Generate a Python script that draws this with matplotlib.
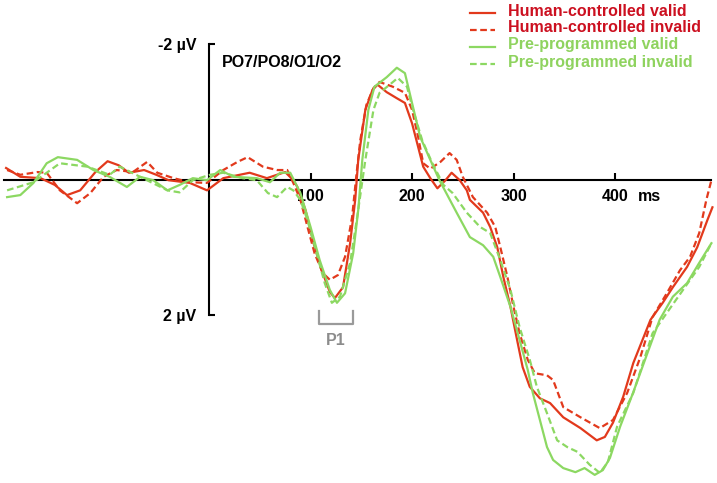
import matplotlib
matplotlib.use("Agg")
import matplotlib.pyplot as plt
from matplotlib.lines import Line2D

plt.rcParams['font.family'] = ['Liberation Sans', 'DejaVu Sans']
plt.rcParams['font.weight'] = 'bold'
plt.rcParams['font.size'] = 11.5

# ERP at PO7/PO8/O1/O2, time in ms, amplitude in uV (negative up)
hc_valid_t = [-200, -186, -166, -152, -140, -127, -112, -100, -89, -79,
              -64, -52, -40, -19, -2, 14, 40, 57, 75, 83,
              87, 95, 103, 111, 119, 124, 132, 139, 144, 147,
              154, 161, 166, 175, 185, 193, 200, 205, 211, 218,
              225, 233, 239, 247, 254, 257, 270, 277, 284, 290,
              297, 303, 309, 316, 326, 336, 349, 366, 382, 390,
              398, 408, 418, 435, 447, 457, 471, 481, 491, 496]
hc_valid_v = [-0.17, -0.04, -0.02, 0.08, 0.23, 0.16, -0.11, -0.27, -0.21, -0.10,
              -0.14, -0.07, 0.01, 0.05, 0.16, -0.02, -0.10, -0.02, -0.11, 0.01,
              0.11, 0.45, 0.94, 1.34, 1.66, 1.75, 1.59, 0.94, 0.30, -0.29,
              -1.03, -1.32, -1.40, -1.29, -1.20, -1.13, -0.83, -0.54, -0.19, -0.02,
              0.13, 0.01, -0.10, 0.01, 0.16, 0.30, 0.49, 0.70, 1.00, 1.44,
              1.88, 2.33, 2.77, 3.06, 3.23, 3.30, 3.51, 3.67, 3.85, 3.80,
              3.59, 3.21, 2.71, 2.07, 1.82, 1.59, 1.29, 1.00, 0.60, 0.41]

hc_invalid_t = [-199, -186, -169, -160, -147, -130, -117, -104, -91, -75,
                -61, -51, -35, -19, -2, 14, 28, 38, 53, 67,
                77, 83, 90, 97, 104, 112, 119, 127, 134, 141,
                145, 149, 155, 162, 168, 181, 193, 200, 206, 211,
                218, 228, 237, 244, 250, 260, 274, 282, 287, 294,
                300, 306, 314, 321, 333, 339, 349, 366, 385, 398,
                412, 425, 437, 451, 464, 474, 483, 490, 495]
hc_invalid_v = [-0.14, -0.07, -0.11, -0.10, 0.16, 0.35, 0.20, -0.04, -0.14, -0.11,
                -0.26, -0.10, -0.02, 0.04, 0.05, -0.14, -0.26, -0.33, -0.19, -0.14,
                -0.14, 0.05, 0.30, 0.70, 1.09, 1.38, 1.48, 1.41, 1.14, 0.55,
                -0.04, -0.58, -1.10, -1.35, -1.44, -1.37, -1.28, -1.03, -0.63, -0.24,
                -0.16, -0.26, -0.39, -0.29, -0.04, 0.26, 0.49, 0.70, 1.00, 1.44,
                1.88, 2.27, 2.66, 2.86, 2.89, 2.96, 3.36, 3.51, 3.67, 3.55,
                3.15, 2.62, 2.03, 1.68, 1.34, 1.14, 0.79, 0.30, 0.01]

pp_valid_t = [-199, -186, -173, -160, -149, -130, -114, -98, -81, -68,
              -55, -41, -29, -16, -2, 11, 24, 47, 60, 70,
              80, 90, 100, 109, 119, 126, 134, 142, 147, 151,
              157, 163, 175, 185, 193, 200, 208, 218, 227, 244,
              257, 270, 280, 287, 297, 306, 314, 319, 326, 333,
              339, 349, 361, 370, 380, 388, 395, 405, 418, 432,
              444, 457, 471, 483, 495]
pp_valid_v = [0.26, 0.23, 0.05, -0.24, -0.33, -0.29, -0.14, -0.04, 0.11, -0.04,
              0.01, 0.16, 0.08, -0.02, 0.01, -0.14, -0.04, -0.02, 0.04, -0.10,
              -0.10, 0.20, 0.70, 1.19, 1.63, 1.82, 1.68, 1.09, 0.45, -0.29,
              -1.03, -1.37, -1.51, -1.65, -1.57, -1.13, -0.63, -0.29, 0.01, 0.49,
              0.85, 0.97, 1.14, 1.44, 1.88, 2.37, 2.81, 3.15, 3.55, 3.95,
              4.14, 4.26, 4.32, 4.26, 4.36, 4.29, 4.11, 3.65, 3.14, 2.56,
              2.07, 1.73, 1.53, 1.23, 0.94]

pp_invalid_t = [-199, -173, -147, -120, -98, -88, -68, -41, -29, -16,
                1, 14, 33, 47, 58, 67, 77, 83, 90, 97,
                106, 114, 121, 129, 139, 146, 154, 162, 168, 178,
                186, 195, 201, 210, 220, 231, 240, 254, 267, 277,
                287, 297, 306, 316, 323, 333, 343, 353, 363, 375,
                385, 393, 402, 418, 437, 451, 467, 483, 495]
pp_invalid_v = [0.16, 0.04, -0.24, -0.19, -0.07, -0.19, -0.04, 0.16, 0.19, 0.01,
                -0.07, -0.10, -0.02, 0.01, 0.20, 0.26, 0.11, 0.16, 0.30, 0.60,
                1.09, 1.53, 1.82, 1.73, 1.23, 0.55, -0.29, -1.03, -1.28, -1.40,
                -1.50, -1.37, -1.03, -0.58, -0.24, 0.08, 0.20, 0.49, 0.70, 0.79,
                1.19, 1.63, 2.18, 2.66, 3.06, 3.45, 3.85, 3.95, 4.02, 4.21,
                4.33, 4.17, 3.65, 3.15, 2.27, 1.97, 1.63, 1.29, 0.94]

labels = ['Human-controlled valid', 'Human-controlled invalid',
          'Pre-programmed valid', 'Pre-programmed invalid']
p1_window = [108, 142]

red = '#e2391c'
red_text = '#cc1020'
green = '#8cd862'
green_text = '#8fd35f'
dash = (0, (3, 1.6))

series = [
    (hc_valid_t, hc_valid_v, red, '-', red_text),
    (hc_invalid_t, hc_invalid_v, red, dash, red_text),
    (pp_valid_t, pp_valid_v, green, '-', green_text),
    (pp_invalid_t, pp_invalid_v, green, dash, green_text),
]

W, H = 717, 483
fig = plt.figure(figsize=(W / 100, H / 100), dpi=100)
ax = fig.add_axes([0, 0, 1, 1])
ax.set_xlim(-206, 500.5)
ax.set_ylim(4.48, -2.65)

for t, v, c, ls, _ in series:
    ax.plot(t, v, color=c, lw=1.6, ls=ls, solid_joinstyle='round', zorder=3)

for side in ['top', 'right']:
    ax.spines[side].set_visible(False)
ax.spines['left'].set_position(('data', 0))
ax.spines['bottom'].set_position(('data', 0))
ax.spines['left'].set_bounds(-2, 2)
ax.spines['bottom'].set_bounds(-202, 495)
for side in ['left', 'bottom']:
    ax.spines[side].set_linewidth(1.5)

ax.set_xticks([100, 200, 300, 400])
ax.tick_params(axis='x', direction='in', length=5, width=1.5, pad=7)
ax.set_yticks([-2, 2])
ax.set_yticklabels(['-2 \u00b5V', '2 \u00b5V'])
ax.tick_params(axis='y', direction='in', length=4, width=1.5, pad=9)

ax.annotate('ms', xy=(434, 0), xytext=(0, -7), textcoords='offset points',
            ha='center', va='top')
ax.text(13, -1.73, 'PO7/PO8/O1/O2', ha='left', va='center')

# P1 window bracket
ax.plot([p1_window[0], p1_window[0], p1_window[1], p1_window[1]],
        [1.94, 2.13, 2.13, 1.94], color='#9a9a9a', lw=1.6)
ax.text(sum(p1_window) / 2, 2.37, 'P1', color='#8c8c8c', ha='center', va='center')

# legend drawn by hand in pixel units
for i, (_, _, c, ls, tc) in enumerate(series):
    yp = 13 + 17 * i
    fig.add_artist(Line2D([470 / W, 495 / W], [1 - yp / H] * 2, color=c, ls=ls,
                          lw=1.6, transform=fig.transFigure))
    fig.text(508 / W, 1 - (yp - 2) / H, labels[i], color=tc, ha='left', va='center')

fig.savefig('out.png', dpi=100)
